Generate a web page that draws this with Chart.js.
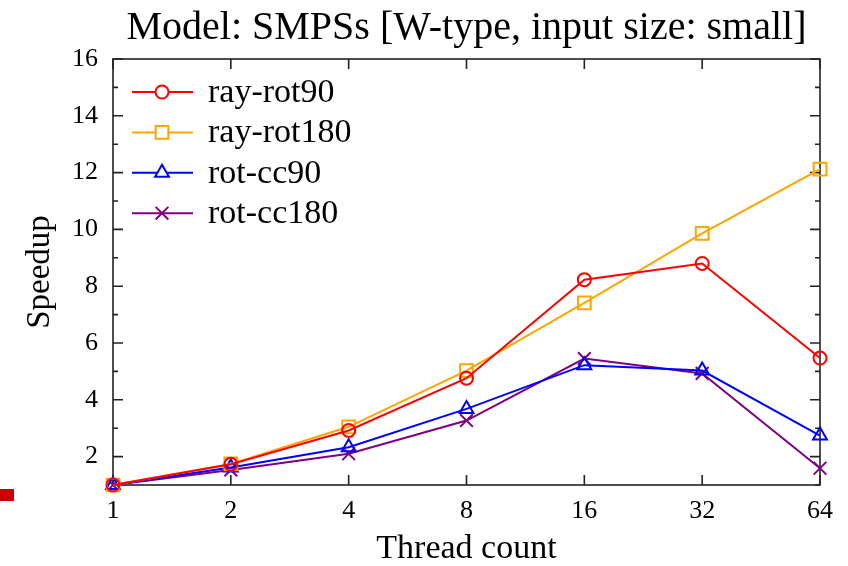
<!DOCTYPE html>
<html>
<head>
<meta charset="utf-8">
<script src="https://cdn.jsdelivr.net/npm/chart.js@4.4.1/dist/chart.umd.min.js"></script>
<style>
  html, body { margin: 0; padding: 0; background: #fff; }
  #wrap { position: relative; width: 848px; height: 566px; }
  #mark { position: absolute; left: 0; top: 489px; width: 14px; height: 12px; background: #c80000; }
</style>
</head>
<body>
<div id="wrap">
  <canvas id="c" width="848" height="566"></canvas>
  <div id="mark"></div>
</div>
<script>
const threadCounts = ['1', '2', '4', '8', '16', '32', '64'];
const rayRot90  = [1.0, 1.73, 2.92, 4.76, 8.23, 8.80, 5.47];
const rayRot180 = [1.0, 1.74, 3.05, 5.03, 7.41, 9.86, 12.12];
const rotCc90   = [1.0, 1.62, 2.33, 3.68, 5.22, 5.03, 2.74];
const rotCc180  = [1.0, 1.53, 2.10, 3.27, 5.45, 4.93, 1.59];
const yTickValues = [2, 4, 6, 8, 10, 12, 14, 16];

const SERIF = "'Liberation Serif', 'Times New Roman', serif";

function ds(label, data, color, style, radius) {
  return {
    label, data,
    borderColor: color,
    backgroundColor: 'rgba(0,0,0,0)',
    borderWidth: 2,
    pointStyle: style,
    pointRadius: radius,
    pointBorderWidth: 2,
    pointBorderColor: color,
    pointBackgroundColor: 'rgba(0,0,0,0)',
    tension: 0,
    clip: false
  };
}

const framePlugin = {
  id: 'frame',
  beforeDatasetsDraw(chart) {
    const {ctx, chartArea: a, scales: {x, y}} = chart;
    ctx.save();
    ctx.strokeStyle = '#222';
    ctx.lineWidth = 1.6;
    ctx.strokeRect(a.left, a.top, a.right - a.left, a.bottom - a.top);
    ctx.beginPath();
    for (let v = 1; v <= 16; v++) {
      const py = y.getPixelForValue(v);
      const len = (yTickValues.includes(v)) ? 10 : 5;
      ctx.moveTo(a.left, py); ctx.lineTo(a.left + len, py);
      ctx.moveTo(a.right, py); ctx.lineTo(a.right - len, py);
    }
    for (let i = 0; i < threadCounts.length; i++) {
      const px = x.getPixelForValue(i);
      ctx.moveTo(px, a.bottom); ctx.lineTo(px, a.bottom - 10);
      ctx.moveTo(px, a.top); ctx.lineTo(px, a.top + 10);
    }
    ctx.stroke();
    ctx.restore();
  }
};

const legendPlugin = {
  id: 'insideLegend',
  afterDraw(chart) {
    const {ctx} = chart;
    ctx.save();
    const x0 = 132, x1 = 193, xm = 162, xt = 208;
    const y0 = 92, dy = 40.4;
    chart.data.datasets.forEach((d, i) => {
      const yy = y0 + i * dy;
      ctx.strokeStyle = d.borderColor;
      ctx.lineWidth = d.borderWidth;
      ctx.beginPath(); ctx.moveTo(x0, yy); ctx.lineTo(x1, yy); ctx.stroke();
      const opts = {pointStyle: d.pointStyle, radius: d.pointRadius, borderWidth: d.pointBorderWidth, rotation: 0};
      ctx.fillStyle = '#fff';
      ctx.strokeStyle = d.borderColor;
      ctx.lineWidth = d.pointBorderWidth;
      if (Chart.helpers && Chart.helpers.drawPoint) {
        Chart.helpers.drawPoint(ctx, opts, xm, yy);
      }
      ctx.fillStyle = '#000';
      ctx.font = '34px ' + SERIF;
      ctx.textBaseline = 'middle';
      ctx.textAlign = 'left';
      ctx.fillText(d.label, xt, yy + 1);
    });
    ctx.restore();
  }
};

new Chart(document.getElementById('c'), {
  type: 'line',
  data: {
    labels: threadCounts,
    datasets: [
      ds('ray-rot90', rayRot90, '#ff0000', 'circle', 6.5),
      ds('ray-rot180', rayRot180, '#ffa500', 'rect', 9),
      ds('rot-cc90', rotCc90, '#0000ff', 'triangle', 8),
      ds('rot-cc180', rotCc180, '#800080', 'crossRot', 9)
    ]
  },
  options: {
    responsive: false,
    animation: false,
    devicePixelRatio: 1,
    layout: { padding: { left: 0, right: 28, top: 0, bottom: 0 } },
    plugins: {
      legend: { display: false },
      tooltip: { enabled: false },
      title: {
        display: true,
        fullSize: false,
        text: 'Model: SMPSs [W-type, input size: small]',
        color: '#000',
        font: { family: SERIF, size: 40, weight: 'normal', lineHeight: 1.2 },
        padding: { top: 4, bottom: 7 }
      }
    },
    scales: {
      x: {
        type: 'category',
        offset: false,
        grid: { display: false, drawTicks: false },
        border: { display: false },
        ticks: { color: '#000', font: { family: SERIF, size: 26 }, padding: 11, maxRotation: 0, autoSkip: false },
        title: { display: true, text: 'Thread count', color: '#000', font: { family: SERIF, size: 34, lineHeight: 1 }, padding: { top: 0, bottom: 0 } },
        afterFit(s) { s.height = 81; }
      },
      y: {
        min: 1, max: 16,
        grid: { display: false, drawTicks: false },
        border: { display: false },
        ticks: {
          stepSize: 1, autoSkip: false, color: '#000', font: { family: SERIF, size: 26 }, padding: 15,
          callback: (v) => yTickValues.includes(v) ? String(v) : ''
        },
        title: { display: true, text: 'Speedup', color: '#000', font: { family: SERIF, size: 33, lineHeight: 1 }, padding: { top: 24, bottom: 0 } },
        afterFit(s) { s.width = 113; }
      }
    }
  },
  plugins: [framePlugin, legendPlugin]
});
</script>
</body>
</html>
